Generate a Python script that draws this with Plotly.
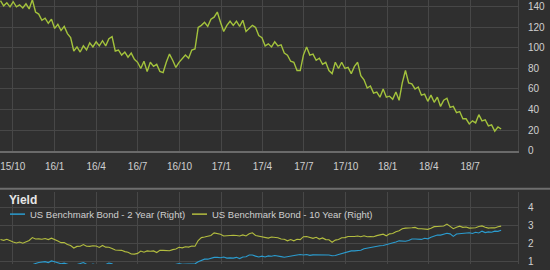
import pandas as pd
import plotly.graph_objects as go

# ---- data (weekly observations) ----
start_date = "2015-09-04"
n_weeks = 158
dates = pd.date_range(start_date, periods=n_weeks, freq="7D")

spread_bp = [146, 141, 144, 140, 145, 140, 142, 139, 143, 138,
             147, 135, 133, 127, 129, 124, 128, 119, 123, 117,
             121, 114, 110, 97, 101, 96, 102, 98, 105, 101,
             106, 102, 107, 102, 109, 111, 97, 98, 93, 96,
             91, 95, 89, 86, 80, 87, 77, 86, 82, 84,
             77, 76, 86, 94, 88, 81, 86, 89, 93, 90,
             98, 99, 120, 122, 125, 121, 128, 130, 135, 125,
             116, 122, 126, 122, 126, 121, 127, 116, 119, 122,
             120, 112, 110, 102, 104, 101, 106, 102, 103, 95,
             93, 87, 86, 78, 78, 93, 101, 93, 94, 88,
             90, 84, 86, 78, 75, 86, 80, 86, 80, 81,
             75, 82, 86, 73, 69, 61, 63, 56, 57, 52,
             60, 52, 53, 50, 57, 49, 66, 78, 66, 65,
             60, 62, 54, 55, 48, 54, 47, 52, 43, 49,
             51, 42, 43, 37, 38, 31, 31, 26, 29, 27,
             35, 29, 30, 24, 25, 19, 23, 21]

yield_10y = [2.20, 2.16, 2.22, 2.13, 2.06, 2.01, 2.06, 2.00, 2.09, 2.15,
             2.31, 2.23, 2.24, 2.22, 2.26, 2.20, 2.28, 2.18, 2.12, 2.03,
             2.04, 1.93, 1.87, 1.73, 1.82, 1.83, 1.92, 1.83, 1.82, 1.86,
             1.84, 1.76, 1.87, 1.78, 1.77, 1.70, 1.62, 1.61, 1.60, 1.53,
             1.50, 1.40, 1.39, 1.43, 1.56, 1.50, 1.57, 1.55, 1.57, 1.48,
             1.60, 1.60, 1.57, 1.58, 1.64, 1.68, 1.77, 1.74, 1.80, 1.78,
             1.84, 1.83, 2.15, 2.31, 2.34, 2.40, 2.43, 2.57, 2.53, 2.50,
             2.40, 2.42, 2.43, 2.44, 2.43, 2.40, 2.46, 2.40, 2.52, 2.58,
             2.43, 2.40, 2.33, 2.30, 2.28, 2.34, 2.33, 2.30, 2.23, 2.22,
             2.13, 2.20, 2.13, 2.22, 2.20, 2.36, 2.37, 2.31, 2.27, 2.33,
             2.23, 2.29, 2.20, 2.19, 2.05, 2.17, 2.20, 2.30, 2.31, 2.37,
             2.36, 2.37, 2.40, 2.36, 2.41, 2.36, 2.37, 2.36, 2.42, 2.44,
             2.50, 2.41, 2.52, 2.54, 2.64, 2.69, 2.80, 2.84, 2.87, 2.86,
             2.88, 2.80, 2.80, 2.78, 2.77, 2.83, 2.92, 2.93, 2.94, 2.96,
             3.06, 2.94, 2.81, 2.89, 2.95, 2.88, 2.90, 2.84, 2.85, 2.86,
             2.93, 2.96, 2.89, 2.84, 2.86, 2.85, 2.91, 2.95]

yield_2y = [0.74, 0.76, 0.75, 0.73, 0.63, 0.62, 0.65, 0.60, 0.67, 0.74,
            0.84, 0.87, 0.92, 0.94, 0.97, 0.92, 1.01, 0.97, 0.91, 0.85,
            0.89, 0.81, 0.75, 0.71, 0.81, 0.85, 0.92, 0.83, 0.77, 0.84,
            0.79, 0.73, 0.81, 0.81, 0.89, 0.85, 0.65, 0.67, 0.63, 0.59,
            0.59, 0.55, 0.59, 0.61, 0.71, 0.66, 0.75, 0.71, 0.74, 0.69,
            0.79, 0.81, 0.77, 0.73, 0.77, 0.81, 0.87, 0.83, 0.83, 0.83,
            0.84, 0.85, 0.96, 1.04, 1.11, 1.11, 1.16, 1.21, 1.21, 1.19,
            1.23, 1.17, 1.18, 1.17, 1.21, 1.14, 1.23, 1.24, 1.34, 1.34,
            1.28, 1.23, 1.28, 1.23, 1.29, 1.27, 1.31, 1.26, 1.25, 1.22,
            1.26, 1.29, 1.32, 1.34, 1.37, 1.34, 1.37, 1.32, 1.35, 1.35,
            1.35, 1.34, 1.37, 1.34, 1.30, 1.31, 1.37, 1.43, 1.47, 1.55,
            1.57, 1.57, 1.57, 1.61, 1.69, 1.73, 1.74, 1.79, 1.81, 1.86,
            1.87, 1.91, 1.95, 2.01, 2.07, 2.13, 2.11, 2.11, 2.15, 2.23,
            2.23, 2.23, 2.21, 2.27, 2.24, 2.33, 2.39, 2.45, 2.45, 2.51,
            2.55, 2.52, 2.38, 2.51, 2.53, 2.57, 2.55, 2.58, 2.54, 2.61,
            2.57, 2.67, 2.59, 2.63, 2.61, 2.67, 2.66, 2.72]

tick_dates = ["2015-10-01", "2016-01-01", "2016-04-01", "2016-07-01",
              "2016-10-01", "2017-01-01", "2017-04-01", "2017-07-01",
              "2017-10-01", "2018-01-01", "2018-04-01", "2018-07-01"]
tick_labels = ["15/10", "16/1", "16/4", "16/7", "16/10", "17/1", "17/4",
               "17/7", "17/10", "18/1", "18/4", "18/7"]
spread_ticks = [0, 20, 40, 60, 80, 100, 120, 140]
yield_ticks = [1, 2, 3, 4]

name_2y = "US Benchmark Bond - 2 Year (Right)"
name_10y = "US Benchmark Bond - 10 Year (Right)"
panel_title = "Yield"

# ---- styling ----
BG = "#2f2f2f"
GRID = "#474747"
TXT = "#cfcfcf"
GREEN_TOP = "#a3c23c"
GREEN_10Y = "#b3bd3f"
BLUE_2Y = "#2b9ccf"
FONT = "Liberation Sans, Arial, sans-serif"
x_range = ["2015-09-03", "2018-10-14"]

fig = go.Figure()
fig.add_trace(go.Scatter(x=dates, y=spread_bp, mode="lines",
                         line=dict(color=GREEN_TOP, width=1.4),
                         xaxis="x", yaxis="y", showlegend=False))
fig.add_trace(go.Scatter(x=dates, y=yield_10y, mode="lines", name=name_10y,
                         line=dict(color=GREEN_10Y, width=1.1),
                         xaxis="x2", yaxis="y2", showlegend=False))
fig.add_trace(go.Scatter(x=dates, y=yield_2y, mode="lines", name=name_2y,
                         line=dict(color=BLUE_2Y, width=1.1),
                         xaxis="x2", yaxis="y2", showlegend=False))

H = 270.0
top_domain = [1 - 154 / H, 1]
bot_domain = [0, 1 - 196 / H]

common_x = dict(type="date", range=x_range, tickvals=tick_dates,
                ticktext=tick_labels, showgrid=True, gridcolor=GRID,
                gridwidth=1, zeroline=False, domain=[0, 518 / 550])

fig.update_layout(
    width=550, height=270,
    margin=dict(l=0, r=0, t=0, b=0),
    paper_bgcolor=BG, plot_bgcolor=BG,
    font=dict(family=FONT, color=TXT, size=10),
    xaxis=dict(**common_x, anchor="y", showticklabels=True,
               ticks="outside", ticklen=5, tickcolor="rgba(0,0,0,0)",
               tickfont=dict(size=10, color=TXT), ticklabeloverflow="allow",
               showline=True, linecolor="#6a6a6a", linewidth=2),
    yaxis=dict(domain=top_domain, side="right", anchor="x",
               range=[0, 146.7], tickvals=spread_ticks,
               showgrid=True, gridcolor=GRID, zeroline=False,
               ticks="outside", ticklen=7, tickcolor="rgba(0,0,0,0)",
               tickfont=dict(size=10, color=TXT),
               showline=True, linecolor=GRID, linewidth=1),
    xaxis2=dict(**common_x, anchor="y2", showticklabels=False),
    yaxis2=dict(domain=bot_domain, side="right", anchor="x2",
                range=[0.84, 4.87], tickvals=yield_ticks,
                showgrid=True, gridcolor=GRID, zeroline=False,
                ticks="outside", ticklen=7, tickcolor="rgba(0,0,0,0)",
                tickfont=dict(size=10, color=TXT),
                showline=True, linecolor=GRID, linewidth=1),
)

# separator between panels
fig.add_shape(type="line", xref="paper", yref="paper",
              x0=0, x1=1, y0=1 - 193 / H, y1=1 - 193 / H,
              line=dict(color="#6e6e6e", width=2))

# panel title
fig.add_annotation(text="<b>" + panel_title + "</b>", xref="paper", yref="paper",
                   x=7 / 550, y=1 - 205 / H, xanchor="left", yanchor="middle",
                   showarrow=False, font=dict(size=12, color="#e6e6e6"))

# legend (drawn manually to match compact style)
leg_y = 1 - 219 / H
fig.add_shape(type="line", xref="paper", yref="paper",
              x0=10 / 550, x1=25 / 550, y0=leg_y, y1=leg_y,
              line=dict(color=BLUE_2Y, width=1.5))
fig.add_annotation(text=name_2y, xref="paper", yref="paper",
                   x=28 / 550, y=leg_y, xanchor="left", yanchor="middle",
                   showarrow=False, font=dict(size=9.5, color=TXT))
fig.add_shape(type="line", xref="paper", yref="paper",
              x0=192 / 550, x1=207 / 550, y0=leg_y, y1=leg_y,
              line=dict(color=GREEN_10Y, width=1.5))
fig.add_annotation(text=name_10y, xref="paper", yref="paper",
                   x=210 / 550, y=leg_y, xanchor="left", yanchor="middle",
                   showarrow=False, font=dict(size=9.5, color=TXT))

fig.write_html("out.html")
